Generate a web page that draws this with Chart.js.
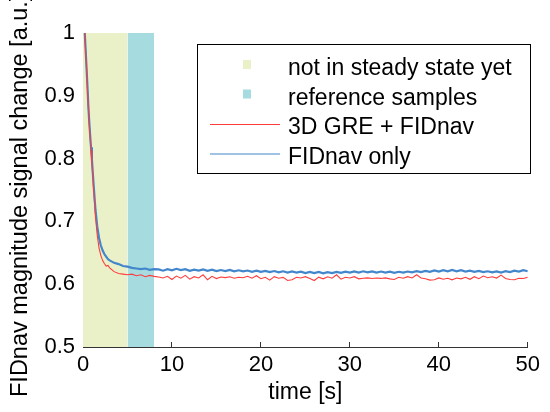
<!DOCTYPE html>
<html>
<head>
<meta charset="utf-8">
<script src="https://cdn.jsdelivr.net/npm/chart.js@4/dist/chart.umd.min.js"></script>
<style>
  html, body { margin: 0; padding: 0; background: #fff; }
  #plot { display: block; }
</style>
</head>
<body>
<canvas id="plot" width="550" height="412"></canvas>
<script>
// Time axis [s]: dense at start, then every 0.5 s
const timeSec = [
  0.2, 0.3, 0.4, 0.5, 0.6, 0.7, 0.8, 0.9, 1.0, 1.2, 1.4, 1.6, 1.8, 2.0, 2.2, 2.4, 2.6, 2.8, 3.0,
  3.5, 4, 4.5, 5, 5.5, 6, 6.5, 7, 7.5, 8,
  8.5, 9, 9.5, 10, 10.5, 11, 11.5, 12, 12.5, 13,
  13.5, 14, 14.5, 15, 15.5, 16, 16.5, 17, 17.5, 18,
  18.5, 19, 19.5, 20, 20.5, 21, 21.5, 22, 22.5, 23,
  23.5, 24, 24.5, 25, 25.5, 26, 26.5, 27, 27.5, 28,
  28.5, 29, 29.5, 30, 30.5, 31, 31.5, 32, 32.5, 33,
  33.5, 34, 34.5, 35, 35.5, 36, 36.5, 37, 37.5, 38,
  38.5, 39, 39.5, 40, 40.5, 41, 41.5, 42, 42.5, 43,
  43.5, 44, 44.5, 45, 45.5, 46, 46.5, 47, 47.5, 48,
  48.5, 49, 49.5, 50
];

// 3D GRE + FIDnav
const greFidnav = [
  1.0, 0.970, 0.942, 0.912, 0.881, 0.856, 0.834, 0.813, 0.793, 0.750, 0.708, 0.678, 0.658, 0.646, 0.638, 0.633, 0.629, 0.630, 0.626,
  0.620, 0.617, 0.616, 0.615, 0.616, 0.6135, 0.615, 0.612, 0.614, 0.6125,
  0.6115, 0.6098, 0.6125, 0.6075, 0.6130, 0.6095, 0.6140, 0.6080, 0.6120, 0.6100,
  0.6150, 0.6070, 0.6125, 0.6090, 0.6115, 0.6105, 0.6118, 0.6095, 0.6110, 0.6102,
  0.6125, 0.6095, 0.6135, 0.6088, 0.6110, 0.6065, 0.6120, 0.6095, 0.6108, 0.6060,
  0.6072, 0.6110, 0.6098, 0.6120, 0.6090, 0.6058, 0.6112, 0.6085, 0.6118, 0.6095,
  0.6150, 0.6080, 0.6110, 0.6098, 0.6120, 0.6085, 0.6095, 0.6100, 0.6090, 0.6098,
  0.6092, 0.6100, 0.6085, 0.6075, 0.6110, 0.6095, 0.6120, 0.6100, 0.6150, 0.6098,
  0.6088, 0.6065, 0.6070, 0.6100, 0.6080, 0.6095, 0.6070, 0.6098, 0.6085, 0.6110,
  0.6078, 0.6120, 0.6088, 0.6130, 0.6102, 0.6118, 0.6098, 0.6145, 0.6090, 0.6075,
  0.6070, 0.6095, 0.6090, 0.6110
];

// FIDnav only
const fidnavOnly = [
  1.0, 0.972, 0.944, 0.915, 0.884, 0.859, 0.838, 0.818, 0.799, 0.757, 0.719, 0.692, 0.674, 0.662, 0.654, 0.648, 0.644, 0.640, 0.638,
  0.634, 0.632, 0.629, 0.628, 0.626, 0.625, 0.624, 0.625, 0.623, 0.624,
  0.6235, 0.6215, 0.6240, 0.6220, 0.6245, 0.6225, 0.6238, 0.6212, 0.6232, 0.6218,
  0.6236, 0.6214, 0.6230, 0.6208, 0.6226, 0.6210, 0.6228, 0.6205, 0.6222, 0.6204,
  0.6218, 0.6198, 0.6215, 0.6196, 0.6212, 0.6194, 0.6210, 0.6190, 0.6206, 0.6186,
  0.6204, 0.6184, 0.6200, 0.6178, 0.6196, 0.6176, 0.6195, 0.6174, 0.6192, 0.6178,
  0.6196, 0.6180, 0.6200, 0.6184, 0.6205, 0.6186, 0.6206, 0.6190, 0.6204, 0.6186,
  0.6202, 0.6184, 0.6200, 0.6182, 0.6198, 0.6184, 0.6202, 0.6188, 0.6208, 0.6192,
  0.6212, 0.6196, 0.6218, 0.6200, 0.6224, 0.6204, 0.6226, 0.6206, 0.6222, 0.6202,
  0.6216, 0.6196, 0.6212, 0.6192, 0.6206, 0.6188, 0.6204, 0.6186, 0.6208, 0.6194,
  0.6216, 0.6200, 0.6222, 0.6206
];

// shaded time windows [s]
const notSteadySpan = [0, 5];
const referenceSpan = [5, 8];

const legendLabels = ['not in steady state yet', 'reference samples', '3D GRE + FIDnav', 'FIDnav only'];
const yTitle = 'FIDnav magnitude signal change [a.u.]';

const FONT = 'Liberation Sans, Arial, sans-serif';
const RED = 'rgb(255, 60, 60)';
const BLUE = 'rgb(66, 134, 204)';
const YELLOW = 'rgb(234, 241, 201)';
const CYAN = 'rgb(166, 219, 223)';

function toPoints(xs, ys) {
    return xs.map((x, i) => ({ x: x, y: ys[i] }));
}

function spanPoints(span) {
    return [{ x: span[0], y: 1 }, { x: span[1], y: 1 }];
}

// y title placed by hand: in the original it sits a bit low and runs off the top
const sideTitle = {
    id: 'sideTitle',
    afterDraw(chart) {
        const ctx = chart.ctx;
        ctx.save();
        ctx.translate(27, 397);
        ctx.rotate(-Math.PI / 2);
        ctx.font = '23.5px ' + FONT;
        ctx.fillStyle = '#000';
        ctx.textAlign = 'left';
        ctx.textBaseline = 'alphabetic';
        ctx.fillText(yTitle, 0, 0);
        ctx.restore();
    }
};

// legend box drawn inside the plot
const insideLegend = {
    id: 'insideLegend',
    afterDraw(chart) {
        const ctx = chart.ctx;
        const box = { x: 197.5, y: 44.5, w: 333, h: 129 };
        ctx.save();
        ctx.fillStyle = '#fff';
        ctx.fillRect(box.x, box.y, box.w, box.h);
        ctx.strokeStyle = '#000';
        ctx.lineWidth = 1;
        ctx.strokeRect(box.x, box.y, box.w, box.h);

        const swatch = [YELLOW, CYAN, RED, BLUE];
        ctx.font = '23px ' + FONT;
        ctx.textBaseline = 'alphabetic';
        legendLabels.forEach((label, i) => {
            const base = 75 + i * 29.5;
            const mid = base - 10;
            if (i < 2) {
                ctx.fillStyle = swatch[i];
                ctx.fillRect(243, mid - 5, 8, 9);
            } else {
                ctx.strokeStyle = swatch[i];
                ctx.lineWidth = 1.2;
                ctx.beginPath();
                ctx.moveTo(210, mid + 0.5);
                ctx.lineTo(280, mid + 0.5);
                ctx.stroke();
            }
            ctx.fillStyle = '#000';
            ctx.fillText(label, 288, base);
        });
        ctx.restore();
    }
};

const ctx = document.getElementById('plot').getContext('2d');
const chart = new Chart(ctx, {
    type: 'line',
    data: {
        datasets: [
            {
                label: legendLabels[2],
                data: toPoints(timeSec, greFidnav),
                borderColor: RED,
                borderWidth: 1.1,
                pointRadius: 0,
                tension: 0,
                fill: false
            },
            {
                label: legendLabels[3],
                data: toPoints(timeSec, fidnavOnly),
                borderColor: BLUE,
                borderWidth: 2.2,
                pointRadius: 0,
                tension: 0,
                fill: false
            },
            {
                label: legendLabels[0],
                data: spanPoints(notSteadySpan),
                borderWidth: 0,
                borderColor: YELLOW,
                backgroundColor: YELLOW,
                pointRadius: 0,
                fill: 'start'
            },
            {
                label: legendLabels[1],
                data: spanPoints(referenceSpan),
                borderWidth: 0,
                borderColor: CYAN,
                backgroundColor: CYAN,
                pointRadius: 0,
                fill: 'start'
            }
        ]
    },
    options: {
        responsive: false,
        animation: false,
        layout: { padding: { top: 33, right: 12, left: 0, bottom: 0 } },
        plugins: {
            legend: { display: false },
            tooltip: { enabled: false }
        },
        scales: {
            x: {
                type: 'linear',
                min: 0,
                max: 50,
                afterFit: (scale) => { scale.height = 65; },
                ticks: {
                    stepSize: 10,
                    color: '#000',
                    font: { family: FONT, size: 22 },
                    padding: 10,
                    maxRotation: 0
                },
                grid: {
                    drawOnChartArea: false,
                    drawTicks: true,
                    tickLength: -5,
                    color: '#333'
                },
                border: { color: '#333', width: 1 },
                title: {
                    display: true,
                    text: 'time [s]',
                    color: '#000',
                    font: { family: FONT, size: 23 },
                    padding: { top: 0, bottom: 6 }
                }
            },
            y: {
                min: 0.5,
                max: 1,
                afterFit: (scale) => { scale.width = 83; },
                ticks: {
                    stepSize: 0.1,
                    color: '#000',
                    font: { family: FONT, size: 22 },
                    padding: 8,
                    callback: (v) => String(Math.round(v * 10) / 10)
                },
                grid: {
                    drawOnChartArea: false,
                    drawTicks: false
                },
                border: { display: false }
            }
        }
    },
    plugins: [insideLegend, sideTitle]
});
</script>
</body>
</html>
